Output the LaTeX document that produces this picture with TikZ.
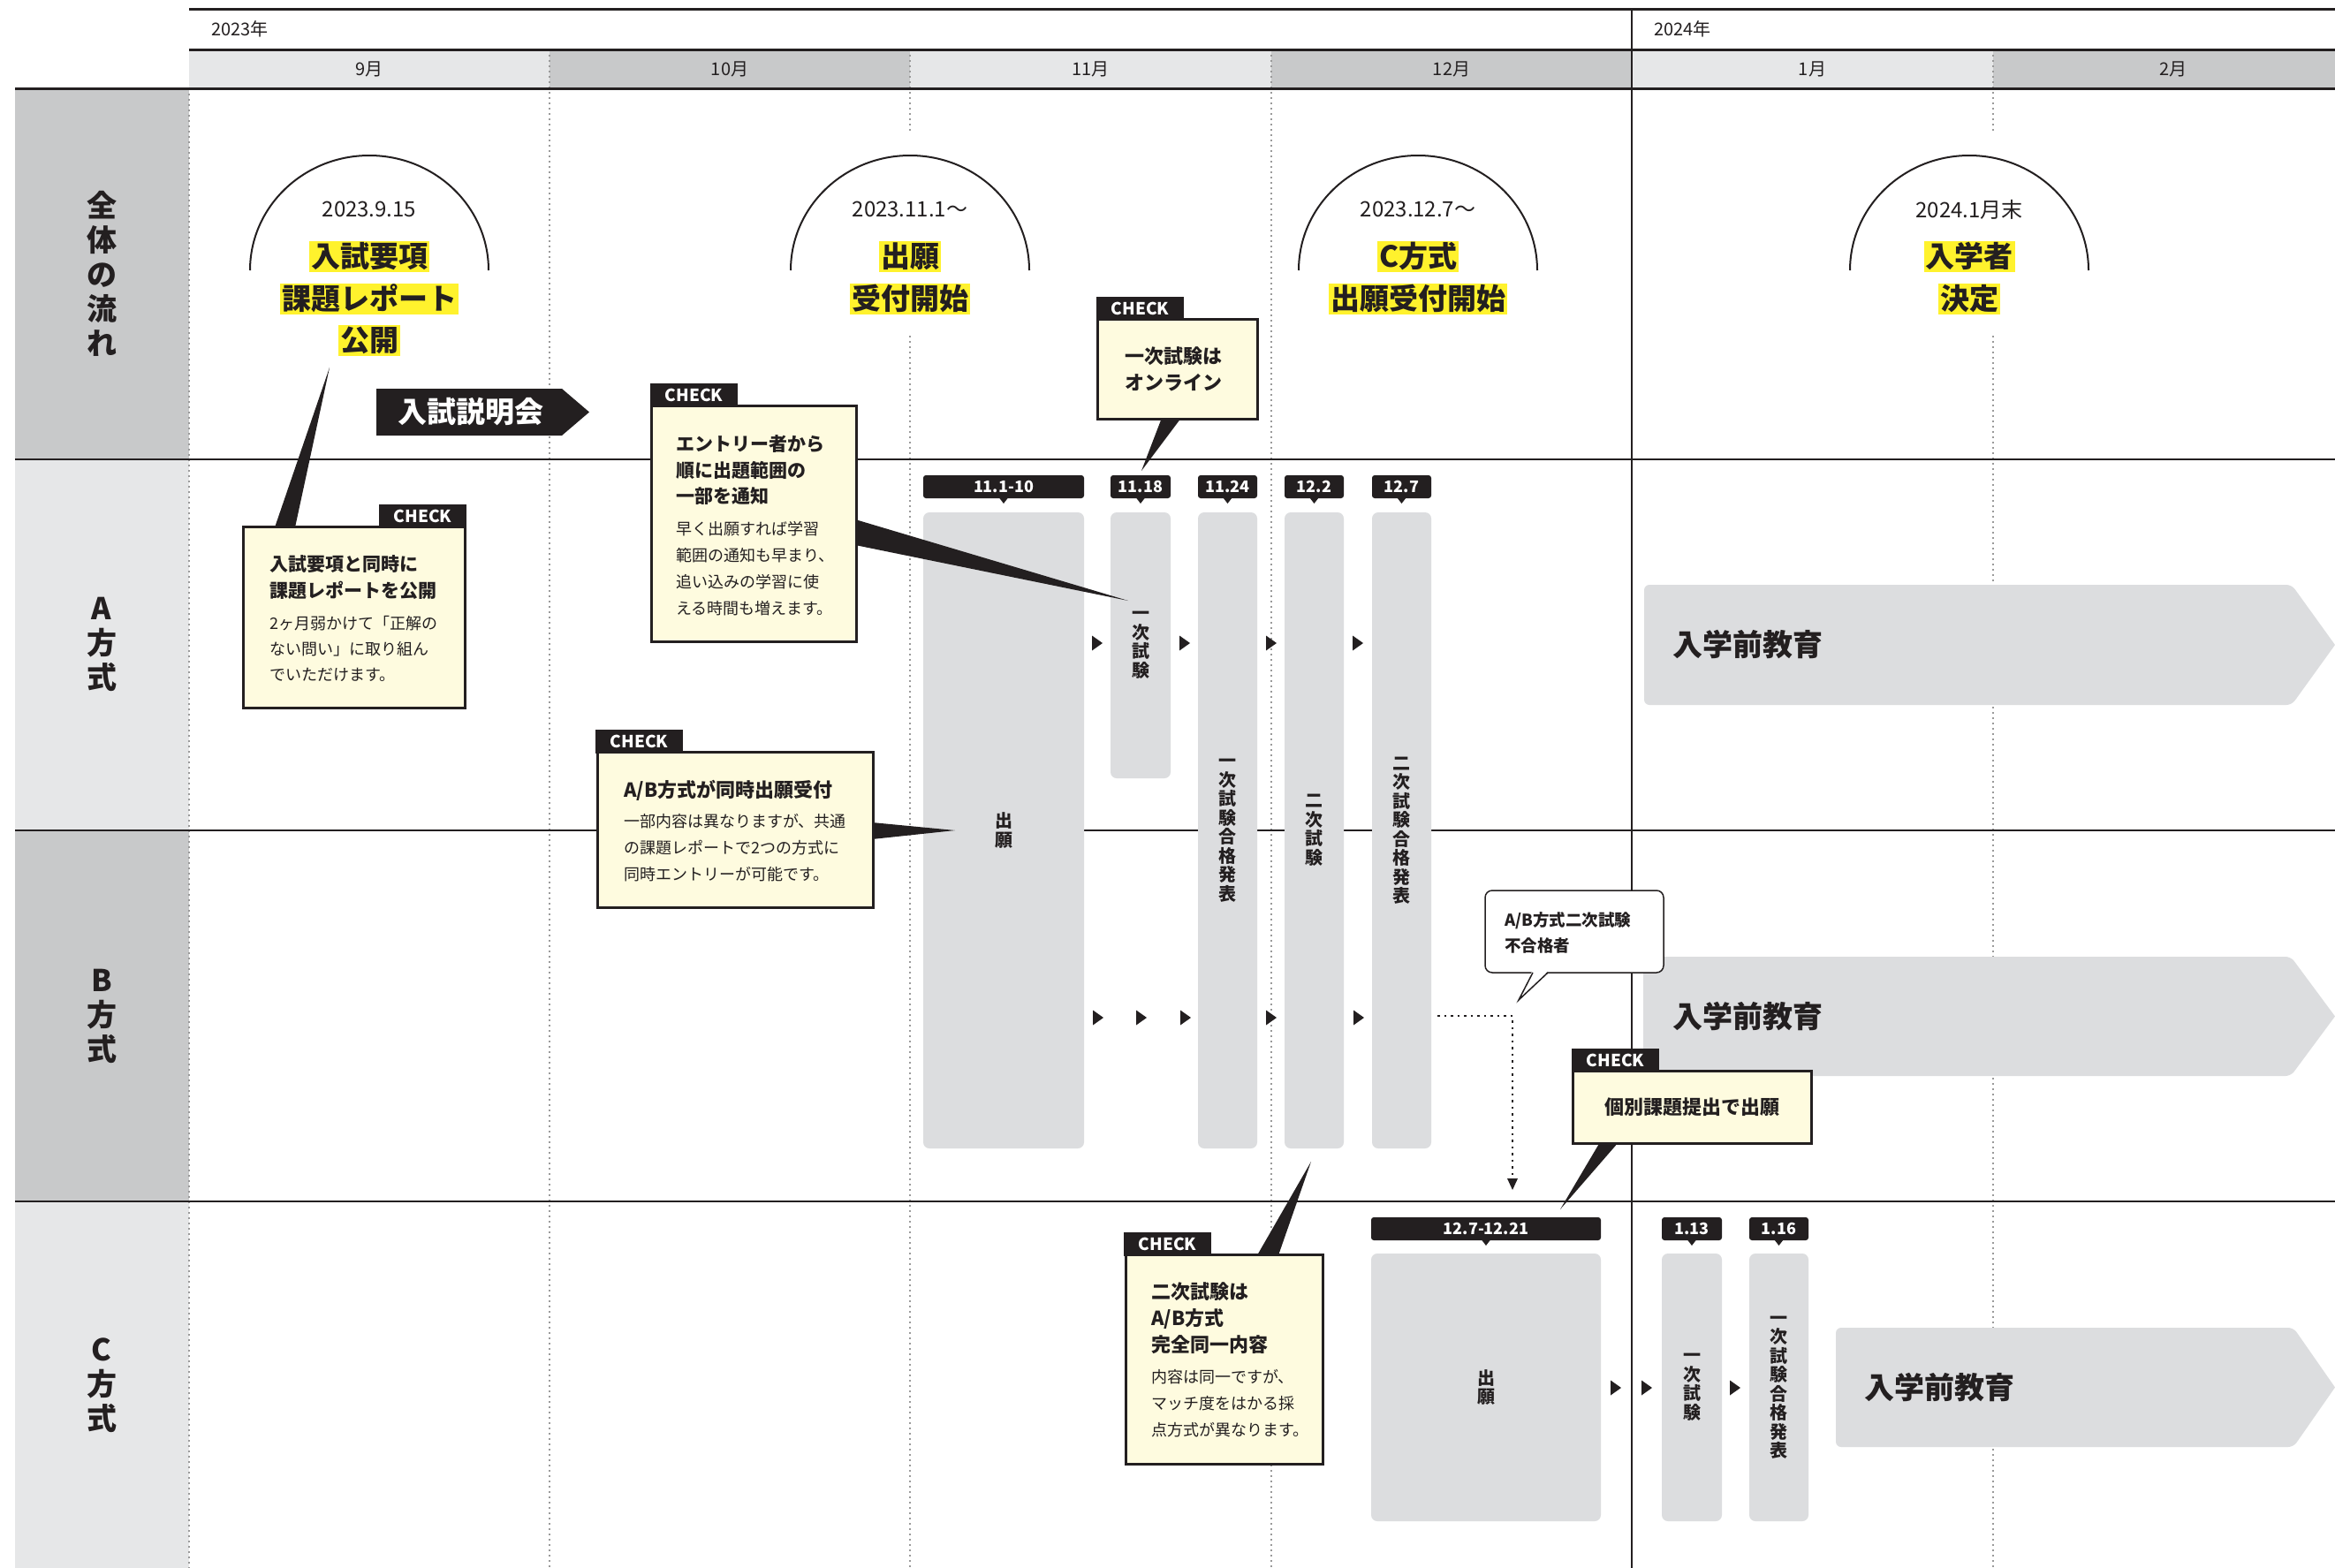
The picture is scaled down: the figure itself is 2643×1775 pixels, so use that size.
\documentclass[tikz,border=0pt]{standalone}
\usepackage{fontspec}
\setmainfont{Noto Sans CJK JP}
\usetikzlibrary{calc,arrows.meta}
\definecolor{ink}{HTML}{231F20}
\definecolor{lgray}{HTML}{E6E7E8}
\definecolor{mgray}{HTML}{C8C9CA}
\definecolor{bgray}{HTML}{DCDDDF}
\definecolor{cream}{HTML}{FEFBDF}
\definecolor{hl}{HTML}{FFF22D}
\definecolor{dotgray}{HTML}{9A9A9A}
\newcommand{\fsz}[2]{\fontsize{#1}{#2}\selectfont}
\tikzset{
  dotline/.style={draw=dotgray, line width=1.5pt, dash pattern=on 1.5pt off 4.5pt},
  rowline/.style={draw=ink, line width=2pt},
  headline/.style={draw=ink, line width=3pt},
  arch/.style={draw=ink, line width=2pt},
  datetxt/.style={anchor=center, inner sep=0, font=\fsz{24}{24}, text=ink},
  hlbox/.style={fill=hl, text=ink, inner xsep=2pt, inner ysep=1pt, text height=29pt, text depth=4pt, font=\fsz{33}{33}\bfseries},
  lbl/.style={align=center, inner sep=0, text=ink, font=\fsz{34}{39}\bfseries},
  mon/.style={inner sep=0, text=ink, font=\fsz{20}{20}},
  bar/.style={fill=bgray, rounded corners=7pt, inner sep=0, outer sep=0, align=center, text=ink, font=\fsz{20}{21.5}\bfseries},
  tagbox/.style={fill=ink, text=white, rounded corners=3pt, minimum height=26pt, inner sep=0, outer sep=0, font=\fsz{18}{18}\bfseries},
  cbox/.style={fill=cream, draw=ink, line width=3pt, inner sep=0, outer sep=0, anchor=north west},
  ctab/.style={fill=ink, text=white, inner sep=0, outer sep=0, anchor=south west, minimum height=27pt, minimum width=99pt, font=\fsz{19}{19}\bfseries},
  txl/.style={anchor=base west, inner sep=0, text=ink},
  bt/.style={txl, font=\fsz{21}{21}\bfseries},
  btt/.style={txl, font=\fsz{22}{22}\bfseries},
  smt/.style={txl, font=\fsz{18}{18}},
  edu/.style={anchor=west, inner sep=0, text=ink, font=\fsz{34}{34}\bfseries},
  pent/.style={fill=bgray},
  ptr/.style={fill=ink},
  arrtri/.style={fill=ink},
  dotconn/.style={draw=ink, line width=2.5pt, dash pattern=on 2.5pt off 5pt},
}
\begin{document}
\begin{tikzpicture}[x=1pt,y=-1pt]
\useasboundingbox (0,0) rectangle (2643,1775);
\fill[white] (0,0) rectangle (2643,1775);

% ---------- left label column ----------
\fill[mgray] (17,100) rectangle (214,520);
\fill[lgray] (17,520) rectangle (214,940);
\fill[mgray] (17,940) rectangle (214,1360);
\fill[lgray] (17,1360) rectangle (214,1775);

% ---------- month header fills ----------
\fill[lgray] (214,56) rectangle (622,100);
\fill[mgray] (622,56) rectangle (1030,100);
\fill[lgray] (1030,56) rectangle (1439,100);
\fill[mgray] (1439,56) rectangle (1847,100);
\fill[lgray] (1847,56) rectangle (2256,100);
\fill[mgray] (2256,56) rectangle (2643,100);

% ---------- dotted month boundaries ----------
\foreach \x in {622,1030,1439,2256} \draw[dotline] (\x,56) -- (\x,1775);
\draw[dotline] (214,100) -- (214,1775);
\foreach \c in {418,1030,1605,2229} \fill[white] (\c-140,148) rectangle (\c+140,378);

% ---------- header lines ----------
\draw[headline] (214,10) -- (2643,10);
\draw[headline] (214,56) -- (2643,56);
\draw[headline] (17,100) -- (2643,100);
\draw[ink, line width=2pt] (1847,10) -- (1847,1775);
\foreach \y in {520,940,1360} \draw[rowline] (17,\y) -- (2643,\y);

% ---------- header texts ----------
\node[mon, anchor=west] (y23) at (239,33) {2023年};
\node[mon, anchor=west] (y24) at (1872,33) {2024年};
\node[mon] (m9) at (418,78) {9月};
\node[mon] (m10) at (826,78) {10月};
\node[mon] (m11) at (1234.5,78) {11月};
\node[mon] (m12) at (1643,78) {12月};
\node[mon] (m1) at (2051.5,78) {1月};
\node[mon] (m2) at (2460,78) {2月};

% ---------- row labels ----------
\node[lbl] (lz) at (115,310) {全\\体\\の\\流\\れ};
\node[lbl] (la) at (115,729) {A\\方\\式};
\node[lbl] (lb) at (115,1150) {B\\方\\式};
\node[lbl] (lc) at (115,1568) {C\\方\\式};

% ---------- arches ----------
\foreach \c in {418,1030,1605,2229}
  \draw[arch] (\c-135,306) arc[start angle=180, end angle=0, x radius=135pt, y radius=130pt];
\node[datetxt] (d1) at (418,237) {2023.9.15};
\node[hlbox] (h1a) at (418,290) {入試要項};
\node[hlbox] (h1b) at (418,338) {課題レポート};
\node[hlbox] (h1c) at (418,385) {公開};
\node[datetxt] (d2) at (1030,237) {2023.11.1～};
\node[hlbox] (h2a) at (1030,290) {出願};
\node[hlbox] (h2b) at (1030,338) {受付開始};
\node[datetxt] (d3) at (1605,237) {2023.12.7～};
\node[hlbox] (h3a) at (1605,290) {C方式};
\node[hlbox] (h3b) at (1605,338) {出願受付開始};
\node[datetxt] (d4) at (2229,237) {2024.1月末};
\node[hlbox] (h4a) at (2229,290) {入学者};
\node[hlbox] (h4b) at (2229,338) {決定};

% ---------- 入試説明会 ----------
\fill[ink] (426,440) -- (636,440) -- (667,466.5) -- (636,493) -- (426,493) -- cycle;
\node[inner sep=0, text=white, font=\fsz{33}{33}\bfseries] (setsumei) at (533,466.5) {入試説明会};

% ---------- bars A/B ----------
\node[bar, minimum width=182, minimum height=720] (bAB0) at (1136,940) {出\\願};
\node[bar, minimum width=68, minimum height=301] (bA1) at (1291,730.5) {一\\次\\試\\験};
\node[bar, minimum width=67, minimum height=720] (bAB2) at (1389.5,940) {一\\次\\試\\験\\合\\格\\発\\表};
\node[bar, minimum width=67, minimum height=720] (bAB3) at (1487.5,940) {二\\次\\試\\験};
\node[bar, minimum width=67, minimum height=720] (bAB4) at (1586.5,940) {二\\次\\試\\験\\合\\格\\発\\表};
% ---------- bars C ----------
\node[bar, minimum width=260, minimum height=303] (bC0) at (1682,1570.5) {出\\願};
\node[bar, minimum width=68, minimum height=303] (bC1) at (1915,1570.5) {一\\次\\試\\験};
\node[bar, minimum width=67, minimum height=303] (bC2) at (2013.5,1570.5) {一\\次\\試\\験\\合\\格\\発\\表};

% ---------- date tags ----------
\node[tagbox, minimum width=182] (tA0) at (1136,551) {11.1-10};
\node[tagbox, minimum width=68] (tA1) at (1291,551) {11.18};
\node[tagbox, minimum width=67] (tA2) at (1389.5,551) {11.24};
\node[tagbox, minimum width=67] (tA3) at (1487.5,551) {12.2};
\node[tagbox, minimum width=67] (tA4) at (1586.5,551) {12.7};
\node[tagbox, minimum width=260] (tC0) at (1682,1391) {12.7-12.21};
\node[tagbox, minimum width=68] (tC1) at (1915,1391) {1.13};
\node[tagbox, minimum width=67] (tC2) at (2013.5,1391) {1.16};
\foreach \t in {tA0,tA1,tA2,tA3,tA4,tC0,tC1,tC2}
  \fill[ink] ($(\t.south)+(-5,-0.5)$) -- ($(\t.south)+(5,-0.5)$) -- ($(\t.south)+(0,6)$) -- cycle;

% ---------- flow arrowheads ----------
\foreach \x in {1236,1335,1433,1531}
  \fill[arrtri] (\x,719.5) -- (\x+12,728) -- (\x,736.5) -- cycle;
\foreach \x in {1237,1286,1336,1433,1532}
  \fill[arrtri] (\x,1143.5) -- (\x+12,1152) -- (\x,1160.5) -- cycle;
\foreach \x in {1823,1858,1958}
  \fill[arrtri] (\x,1562.5) -- (\x+12,1571) -- (\x,1579.5) -- cycle;

% ---------- 入学前教育 ----------
\fill[pent] [rounded corners=6pt] (1861,730) -- (1861,662) -- (2594,662) [sharp corners] -- (2643,730) [rounded corners=6pt] -- (2594,798) -- (1861,798) -- cycle;
\node[edu] (eA) at (1893,730) {入学前教育};
\fill[pent] [rounded corners=6pt] (1860,1150.5) -- (1860,1083) -- (2593,1083) [sharp corners] -- (2643,1150.5) [rounded corners=6pt] -- (2593,1218) -- (1860,1218) -- cycle;
\node[edu] (eB) at (1893,1150.5) {入学前教育};
\fill[pent] [rounded corners=6pt] (2078,1570.5) -- (2078,1503) -- (2596,1503) [sharp corners] -- (2643,1570.5) [rounded corners=6pt] -- (2596,1638) -- (2078,1638) -- cycle;
\node[edu] (eC) at (2110,1570.5) {入学前教育};

% ---------- callout boxes (shapes first) ----------
\node[cbox, minimum width=251, minimum height=205] (cb1) at (275,596) {};
\node[cbox, minimum width=232, minimum height=267] (cb2) at (737,459) {};
\node[cbox, minimum width=312, minimum height=176] (cb3) at (676,851) {};
\node[cbox, minimum width=181, minimum height=113] (cb4) at (1242,361) {};
\node[cbox, minimum width=223, minimum height=237] (cb5) at (1274,1420) {};
\node[cbox, minimum width=270, minimum height=82] (cb6) at (1780,1212) {};

% pointers
\coordinate (p1) at (373,416);
\coordinate (p2) at (1277,680);
\coordinate (p3) at (1081,940);
\coordinate (p4) at (1292,533);
\coordinate (p5) at (1484,1315);
\coordinate (p6) at (1766,1369);
\fill[ptr] ($(cb1.north west)+(36,1)$) -- ($(cb1.north west)+(59,1)$) -- (p1) -- cycle;
\fill[ptr] ($(cb2.north east)+(-1,129)$) -- ($(cb2.north east)+(-1,158)$) -- (p2) -- cycle;
\fill[ptr] ($(cb3.north east)+(-1,80)$) -- ($(cb3.north east)+(-1,99)$) -- (p3) -- cycle;
\fill[ptr] ($(cb4.south west)+(73,-1)$) -- ($(cb4.south west)+(95,-1)$) -- (p4) -- cycle;
\fill[ptr] ($(cb5.north west)+(149,1)$) -- ($(cb5.north west)+(173,1)$) -- (p5) -- cycle;
\fill[ptr] ($(cb6.south west)+(31,-1)$) -- ($(cb6.south west)+(52,-1)$) -- (p6) -- cycle;

% tabs
\node[ctab] (cb1t) at (429,597.5) {CHECK};
\node[ctab] (cb2t) at (736,460.5) {CHECK};
\node[ctab] (cb3t) at (674,852.5) {CHECK};
\node[ctab] (cb4t) at (1241,362.5) {CHECK};
\node[ctab] (cb5t) at (1272,1421.5) {CHECK};
\node[ctab] (cb6t) at (1779,1213.5) {CHECK};

% callout texts
\node[bt] (c1a) at (305,646) {入試要項と同時に};
\node[bt] (c1b) at (305,676) {課題レポートを公開};
\node[smt] (c1c) at (305,712) {2ヶ月弱かけて「正解の};
\node[smt] (c1d) at (305,741) {ない問い」に取り組ん};
\node[smt] (c1e) at (305,770) {でいただけます。};

\node[bt] (c2a) at (765,510) {エントリー者から};
\node[bt] (c2b) at (765,540) {順に出題範囲の};
\node[bt] (c2c) at (765,569) {一部を通知};
\node[smt] (c2d) at (765,605) {早く出願すれば学習};
\node[smt] (c2e) at (765,635) {範囲の通知も早まり、};
\node[smt] (c2f) at (765,665) {追い込みの学習に使};
\node[smt] (c2g) at (765,695) {える時間も増えます。};

\node[btt] (c3a) at (706,902) {A/B方式が同時出願受付};
\node[smt] (c3b) at (706,936) {一部内容は異なりますが、共通};
\node[smt] (c3c) at (706,966) {の課題レポートで2つの方式に};
\node[smt] (c3d) at (706,996) {同時エントリーが可能です。};

\node[btt] (c4a) at (1273,411) {一次試験は};
\node[btt] (c4b) at (1273,441) {オンライン};

\node[btt] (c5a) at (1303,1470) {二次試験は};
\node[btt] (c5b) at (1303,1500) {A/B方式};
\node[btt] (c5c) at (1303,1530) {完全同一内容};
\node[smt] (c5d) at (1303,1565) {内容は同一ですが、};
\node[smt] (c5e) at (1303,1595) {マッチ度をはかる採};
\node[smt] (c5f) at (1303,1625) {点方式が異なります。};

\node[btt, anchor=base] (c6a) at (1915,1261) {個別課題提出で出願};

% ---------- speech bubble ----------
\node[draw=ink, fill=white, line width=1.5pt, rounded corners=8pt, inner sep=0, outer sep=0,
      minimum width=202, minimum height=93, anchor=north west] (bub) at (1681,1008) {};
\coordinate (bubtip) at (1719,1132);
\fill[white] (1734.5,1099) -- (1752.5,1099) -- (bubtip) -- cycle;
\draw[ink, line width=1.5pt] ($(bub.south west)+(54,0)$) -- (bubtip) -- ($(bub.south west)+(71,0)$);
\node[txl, font=\fsz{18.5}{18.5}\bfseries] (bubA) at (1703,1048) {A/B方式二次試験};
\node[txl, font=\fsz{18.5}{18.5}\bfseries] (bubB) at (1703,1077) {不合格者};

% ---------- dotted connector ----------
\coordinate (dS) at (1627,1150);
\coordinate (dB) at (1712,1150);
\coordinate (dC) at (1712,1347);
\draw[dotconn] (dS) -- (dB) -- ($(dC)+(0,-12)$);
\fill[ink] ($(dC)+(-6,-13)$) -- ($(dC)+(6,-13)$) -- (dC) -- cycle;
\end{tikzpicture}
\end{document}
